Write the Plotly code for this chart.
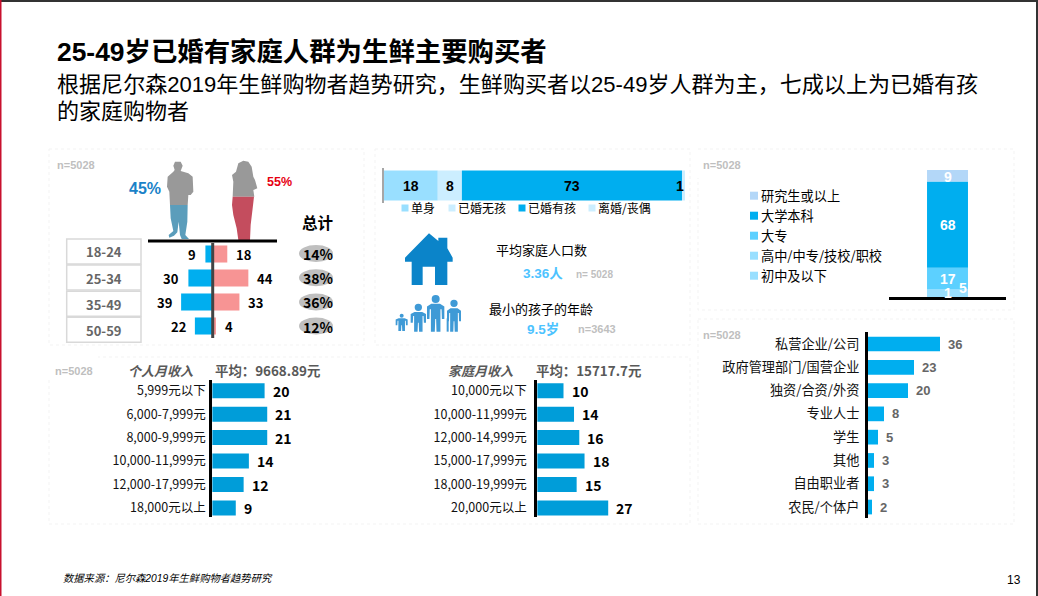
import plotly.graph_objects as go

W, H = 1038, 596
CN = "Noto Sans CJK SC"
LA = "Liberation Sans, Noto Sans CJK SC"

# ---------- data ----------
age_groups = ["18-24", "25-34", "35-49", "50-59"]
male_pct = [9, 30, 39, 22]
female_pct = [18, 44, 33, 4]
total_pct = [14, 38, 36, 12]

marital_labels = ["单身", "已婚无孩", "已婚有孩", "离婚/丧偶"]
marital_values = [18, 8, 73, 1]
marital_colors = ["#99DFFF", "#CCEEFF", "#00AEEF", "#CCEEFF"]

edu_labels = ["初中及以下", "高中/中专/技校/职校", "大专", "大学本科", "研究生或以上"]
edu_values = [1, 5, 17, 68, 9]
edu_colors = ["#99DFFF", "#99DFFF", "#5CD0FF", "#00AEEF", "#B3D7F8"]

job_labels = ["私营企业/公司", "政府管理部门/国营企业", "独资/合资/外资", "专业人士", "学生", "其他", "自由职业者", "农民/个体户"]
job_values = [36, 23, 20, 8, 5, 3, 3, 2]

personal_labels = ["5,999元以下", "6,000-7,999元", "8,000-9,999元", "10,000-11,999元", "12,000-17,999元", "18,000元以上"]
personal_values = [20, 21, 21, 14, 12, 9]

family_labels = ["10,000元以下", "10,000-11,999元", "12,000-14,999元", "15,000-17,999元", "18,000-19,999元", "20,000元以上"]
family_values = [10, 14, 16, 18, 15, 27]

# ---------- helpers ----------
def px(x):
    return x / W

def py(y):
    return 1 - y / H

shapes, annotations, layout_axes, traces = [], [], {}, []

def txt(x, y, s, size=13, color="#000000", bold=False, italic=False, anchor="center", font=CN, **kw):
    annotations.append(dict(
        x=kw.pop("dx", px(x)), y=kw.pop("dy", py(y)),
        xref=kw.pop("xref", "paper"), yref=kw.pop("yref", "paper"),
        text=s, showarrow=False, xanchor=anchor, yanchor="middle", borderpad=0, borderwidth=0,
        font=dict(family=font, size=size, color=color,
                  weight="bold" if bold else "normal",
                  style="italic" if italic else "normal"),
        **kw))

def rect(x0, y0, x1, y1, fill=None, line=None, lw=1, dash="solid", layer="below", kind="rect"):
    shapes.append(dict(type=kind, xref="paper", yref="paper",
                       x0=px(x0), x1=px(x1), y0=py(y0), y1=py(y1),
                       fillcolor=fill or "rgba(0,0,0,0)",
                       line=dict(color=line or "rgba(0,0,0,0)", width=lw if line else 0, dash=dash),
                       layer=layer))

def hline(x0, x1, y, color="#000000", lw=3):
    shapes.append(dict(type="line", xref="paper", yref="paper", x0=px(x0), x1=px(x1), y0=py(y), y1=py(y),
                       line=dict(color=color, width=lw), layer="above"))

def poly(points, fill, ox=0, oy=0, scale=1.0):
    d = "M" + " L".join(f"{px(ox + a * scale):.5f},{py(oy + b * scale):.5f}" for a, b in points) + " Z"
    shapes.append(dict(type="path", xref="paper", yref="paper", path=d, fillcolor=fill,
                       line=dict(width=0), layer="above"))

def add_axes(n, x0, x1, y0, y1, xkw, ykw):
    sx = "" if n == 1 else str(n)
    layout_axes[f"xaxis{sx}"] = dict(domain=[px(x0), px(x1)], anchor=f"y{sx}", fixedrange=True, **xkw)
    layout_axes[f"yaxis{sx}"] = dict(domain=[py(y1), py(y0)], anchor=f"x{sx}", fixedrange=True, **ykw)
    return f"x{sx}", f"y{sx}"

HIDDEN = dict(visible=False, showgrid=False, zeroline=False)

def rows_range(first_center, pitch, top, bottom):
    start = -(first_center - top) / pitch
    end = start + (bottom - top) / pitch
    return [end, start]

def hbars(n, labels, values, color, x0, x1, scale, top, bottom, first, pitch, h, tick_size, line_width,
          val_size, val_color, val_font, gap, ticklen):
    xa, ya = add_axes(n, x0, x1, top, bottom,
                      dict(range=[0, (x1 - x0) / scale], **HIDDEN),
                      dict(type="category", categoryorder="array", categoryarray=labels,
                           range=rows_range(first, pitch, top, bottom),
                           showgrid=False, zeroline=False, showline=True, linecolor="#000000", linewidth=line_width,
                           ticks="outside", ticklen=ticklen, tickcolor="rgba(0,0,0,0)", tickwidth=1,
                           tickfont=dict(family=CN, size=tick_size, color="#111111")))
    traces.append(go.Bar(x=values, y=labels, orientation="h", marker=dict(color=color, line=dict(width=0)),
                         width=h / pitch, xaxis=xa, yaxis=ya, showlegend=False, hoverinfo="x+y"))
    for lab, v in zip(labels, values):
        txt(0, 0, str(v), size=val_size, color=val_color, bold=True, anchor="left", font=val_font,
            dx=v, dy=lab, xref=xa, yref=ya, xshift=gap)

# ---------- frame ----------
rect(0, 0, W, 2, fill="#333333", layer="above")
rect(0, 0, 1.5, H, fill="#C8102E", layer="above")
rect(W - 2, 0, W, H, fill="#333333", layer="above")

PANEL = "#F3F3F3"
for box in [(49, 149, 364, 345), (375, 149, 690, 345), (698, 149, 1014, 310), (698, 319, 1014, 524), (49, 357, 690, 524)]:
    rect(*box, fill="#FFFFFF", line=PANEL, lw=1, dash="dot")
rect(47, 355, 98, 378, fill="#FFFFFF")
rect(696, 151, 702, 178, fill="#FFFFFF")

# ---------- headings ----------
txt(57, 52, "25-49岁已婚有家庭人群为生鲜主要购买者", size=26.4, bold=True, anchor="left", font=LA)
txt(57, 84, "根据尼尔森2019年生鲜购物者趋势研究，生鲜购买者以25-49岁人群为主，七成以上为已婚有孩", size=22.05, anchor="left", font=LA)
txt(57, 111, "的家庭购物者", size=22, anchor="left", font=LA)
txt(63, 578, "数据来源：尼尔森2019年生鲜购物者趋势研究", size=10.3, italic=True, anchor="left", font=LA)
txt(1014, 580, "13", size=12, font=LA)

# ---------- panel 1: age / gender ----------
for t, (x, y) in zip(["n=5028"] * 4, [(57, 165), (703, 165), (703, 335), (55, 371)]):
    txt(x, y, t, size=11, color="#BFBFBF", bold=True, anchor="left", font=LA)

GRAY = "#999999"
man_top = [(405, 50), (422, 50), (428, 62), (422, 78), (445, 85), (458, 95), (460, 140), (452, 150), (445, 150),
           (443, 180), (390, 180), (388, 140), (381, 125), (383, 95), (400, 80), (404, 75), (400, 62)]
man_legs = [(390, 180), (443, 180), (442, 230), (436, 270), (447, 282), (425, 282), (420, 270), (416, 230),
            (412, 262), (402, 272), (388, 278), (386, 270), (400, 258), (392, 220)]
woman_top = [(610, 47), (595, 55), (588, 80), (576, 90), (580, 110), (578, 155), (643, 155), (640, 135), (652, 130),
             (645, 105), (640, 95), (635, 65), (625, 50)]
woman_legs = [(578, 155), (642, 155), (638, 190), (632, 240), (630, 285), (595, 285), (590, 250), (580, 210), (576, 180)]
poly(man_top, GRAY, 40, 145, 1 / 3)
poly(man_legs, "#5B9DBB", 40, 145, 1 / 3)
poly(woman_top, GRAY, 40, 145, 1 / 3)
poly(woman_legs, "#C44D5E", 40, 145, 1 / 3)

txt(145, 188, "45%", size=16, color="#1A82C8", bold=True, font=LA)
txt(279, 182, "55%", size=12.5, color="#E60012", bold=True, font=LA)
txt(317, 222, "总计", size=15.5, bold=True)
hline(148, 277, 241)

CX, SC = 212.7, 0.81
xa, ya = add_axes(1, 165, 265, 242, 338,
                  dict(range=[(165 - CX) / SC, (265 - CX) / SC], **HIDDEN),
                  dict(type="category", categoryorder="array", categoryarray=age_groups,
                       range=[3.5, -0.5], **HIDDEN))
traces.append(go.Bar(x=[-v for v in male_pct], y=age_groups, orientation="h", width=0.71,
                     marker=dict(color="#00AEEF", line=dict(width=0)), xaxis=xa, yaxis=ya, showlegend=False,
                     customdata=male_pct, hovertemplate="%{y}: %{customdata}<extra></extra>"))
traces.append(go.Bar(x=female_pct, y=age_groups, orientation="h", width=0.71,
                     marker=dict(color="#F79494", line=dict(width=0)), xaxis=xa, yaxis=ya, showlegend=False,
                     hovertemplate="%{y}: %{x}<extra></extra>"))
shapes.append(dict(type="line", xref=xa, yref="paper", x0=0, x1=0, y0=py(243), y1=py(338),
                   line=dict(color="#444444", width=3), layer="above"))
for i, g in enumerate(age_groups):
    txt(0, 0, str(male_pct[i]), size=13, bold=True, anchor="right", font=CN, dx=-male_pct[i], dy=g, xref=xa, yref=ya, xshift=-9)
    txt(0, 0, str(female_pct[i]), size=13, bold=True, anchor="left", font=CN, dx=female_pct[i], dy=g, xref=xa, yref=ya, xshift=9)
    top = 239 + i * 26.1
    rect(66.7, top, 141, top + 25, fill="#FFFFFF", line="#D9D9D9", lw=1.5)
    txt(104, top + 13, g, size=13, color="#666666", bold=True, font=CN)
    cy = 253.5 + i * 24.2
    rect(299, cy - 8.5, 333, cy + 8.5, fill="#BFBFBF", kind="circle")
    txt(318, cy + 0.5, f"{total_pct[i]}%", size=14, bold=True, font=CN)

# ---------- panel 2: marital ----------
xa, ya = add_axes(2, 383.5, 685, 168, 203,
                  dict(range=[0, 100], **HIDDEN),
                  dict(type="category", range=[-0.5, 0.5], showgrid=False, zeroline=False, showline=True,
                       linecolor="#A6A6A6", linewidth=1.5, showticklabels=False, ticks=""))
cum = 0
for lab, v, col in zip(marital_labels, marital_values, marital_colors):
    traces.append(go.Bar(x=[v], y=["婚姻状况"], orientation="h", name=lab, width=0.86,
                         marker=dict(color=col, line=dict(width=0)), xaxis=xa, yaxis=ya, showlegend=False))
    txt(0, 0, str(v), size=14, bold=True, font=LA, dx=cum + v / 2, dy="婚姻状况", xref=xa, yref=ya,
        **({"xshift": -3} if v == 1 else {}))
    cum += v
for lab, col, sx in zip(marital_labels, marital_colors, [405, 452, 522, 592]):
    rect(sx - 3.5, 204.5, sx + 3.5, 211.5, fill=col, layer="above")
    txt(sx + 6, 208, lab, size=12, anchor="left")

house = [(177, 265), (205, 288), (205, 278), (232, 278), (232, 310), (248, 338), (248, 350), (232, 350), (232, 420),
         (195, 420), (195, 365), (158, 365), (158, 420), (125, 420), (125, 350), (105, 350), (105, 338)]
poly(house, "#0B84C9", 370, 145, 1 / 3)

PERSON = [(-.5, 0), (.5, 0), (1, .1), (1, .55), (.72, .55), (.68, .2), (.55, .2), (.55, 1), (.1, 1), (.05, .55),
          (-.05, .55), (-.1, 1), (-.55, 1), (-.55, .2), (-.68, .2), (-.72, .55), (-1, .55), (-1, .1)]
for cx, hy, r, t, b, w in [(95, 512, 6, 520, 558, 18), (145, 487, 11, 501, 560, 23), (197, 462, 12, 476, 560, 26), (252, 475, 11, 490, 560, 21)]:
    poly([(cx + a * w, t + c * (b - t)) for a, c in PERSON], "#3F9AD6", 370, 145, 1 / 3)
    rect(370 + (cx - r) / 3, 145 + (hy - r) / 3, 370 + (cx + r) / 3, 145 + (hy + r) / 3, fill="#3F9AD6", kind="circle", layer="above")
shapes.append(dict(type="line", xref="paper", yref="paper", x0=px(370 + 233 / 3), x1=px(370 + 233 / 3),
                   y0=py(145 + 520 / 3), y1=py(145 + 560 / 3), line=dict(color="#3F9AD6", width=2), layer="above"))

txt(496, 249, "平均家庭人口数", size=13, anchor="left")
txt(523, 273, "3.36人", size=13.5, color="#4DC3FF", bold=True, anchor="left", font=LA)
txt(576, 274, "n= 5028", size=10, color="#BFBFBF", bold=True, anchor="left", font=LA)
txt(489, 308, "最小的孩子的年龄", size=13, anchor="left")
txt(527, 329, "9.5岁", size=13.5, color="#4DC3FF", bold=True, anchor="left", font=LA)
txt(578, 329, "n=3643", size=11, color="#BFBFBF", bold=True, anchor="left", font=LA)

# ---------- panel 3: education ----------
xa, ya = add_axes(3, 889, 1006, 170, 297,
                  dict(type="category", range=[-0.5, 0.5], showgrid=False, zeroline=False, showline=True,
                       linecolor="#000000", linewidth=3, showticklabels=False, ticks=""),
                  dict(range=[0, 100], **HIDDEN))
cum = 0
shift = {1: (0, 3.5), 5: (15, 4.5), 9: (0, -1)}
for lab, v, col in zip(edu_labels, edu_values, edu_colors):
    traces.append(go.Bar(x=["学历"], y=[v], name=lab, width=0.35, marker=dict(color=col, line=dict(width=0)),
                         xaxis=xa, yaxis=ya, showlegend=False))
    dx, dy = shift.get(v, (0, 0))
    txt(0, 0, str(v), size=14, color="#FFFFFF", bold=True, font=LA, dx="学历", dy=cum + v / 2, xref=xa, yref=ya,
        xshift=dx, yshift=dy)
    cum += v
for i, (lab, col) in enumerate(zip(edu_labels[::-1], edu_colors[::-1])):
    yy = 195.7 + i * 20
    rect(750, yy - 4, 758, yy + 4, fill=col, layer="above")
    txt(761, yy, lab, size=13.2, anchor="left")

# ---------- panel 4: occupation ----------
hbars(4, job_labels, job_values, "#00AEEF", 868, 1005, 2.0, 332, 518, 344, 23.29, 14.7, 13.2, 3,
      13, "#666666", LA, 8, 3)

# ---------- panel 5: income ----------
hbars(5, personal_labels, personal_values, "#009DD9", 212.2, 340, 2.62, 380, 517, 390.7, 23.46, 15, 12.5, 3,
      14, "#000000", CN, 8, 1)
hbars(6, family_labels, family_values, "#009DD9", 537.2, 680, 2.63, 380, 517, 390.7, 23.46, 15, 12.5, 3,
      14, "#000000", CN, 8, 5)
txt(128, 370, "个人月收入", size=13, color="#595959", bold=True, italic=True, anchor="left")
txt(215, 370, "平均：9668.89元", size=13.4, color="#595959", bold=True, anchor="left")
txt(448, 370, "家庭月收入", size=13, color="#595959", bold=True, italic=True, anchor="left")
txt(536, 370, "平均：15717.7元", size=13.4, color="#595959", bold=True, anchor="left")

fig = go.Figure(traces)
fig.update_layout(width=W, height=H, margin=dict(l=0, r=0, t=0, b=0, autoexpand=False),
                  paper_bgcolor="#FFFFFF", plot_bgcolor="rgba(0,0,0,0)", barmode="relative",
                  showlegend=False, shapes=shapes, annotations=annotations, **layout_axes)
fig.write_html("out.html", config={"displayModeBar": False},
               post_script="document.body.style.margin='0';document.body.style.overflow='hidden';")
